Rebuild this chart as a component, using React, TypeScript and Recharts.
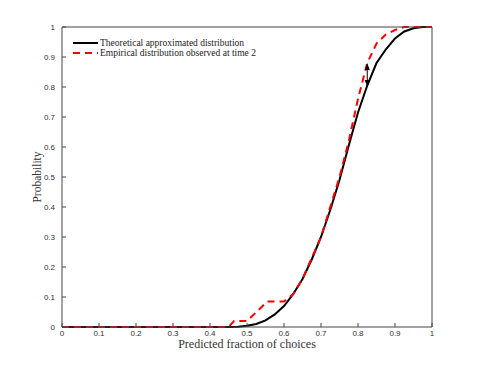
import { LineChart, Line, XAxis, YAxis, ReferenceLine } from "recharts";

// theoretical (black) curve
const theoryX = [0, 0.1, 0.2, 0.3, 0.4, 0.45, 0.475, 0.5, 0.525, 0.55, 0.575, 0.6, 0.625, 0.65, 0.675, 0.7, 0.725, 0.75, 0.775, 0.8, 0.825, 0.85, 0.875, 0.9, 0.925, 0.95, 0.975, 1];
const theoryY = [0, 0, 0, 0, 0, 0, 0.001, 0.004, 0.01, 0.022, 0.042, 0.07, 0.11, 0.16, 0.225, 0.3, 0.39, 0.49, 0.605, 0.715, 0.805, 0.88, 0.925, 0.962, 0.985, 0.996, 1, 1];

// empirical (red dashed) distribution at time 2
const empiricalX = [0, 0.45, 0.465, 0.5, 0.555, 0.6, 0.625, 0.65, 0.7, 0.725, 0.75, 0.775, 0.8, 0.825, 0.85, 0.875, 0.9, 0.925, 1];
const empiricalY = [0, 0, 0.02, 0.02, 0.085, 0.085, 0.11, 0.16, 0.3, 0.4, 0.5, 0.62, 0.76, 0.88, 0.945, 0.975, 0.99, 1, 1];

const xTicks = [0, 0.1, 0.2, 0.3, 0.4, 0.5, 0.6, 0.7, 0.8, 0.9, 1];
const yTicks = [0, 0.1, 0.2, 0.3, 0.4, 0.5, 0.6, 0.7, 0.8, 0.9, 1];
const tickLabels = ["0", "0.1", "0.2", "0.3", "0.4", "0.5", "0.6", "0.7", "0.8", "0.9", "1"];

const arrowX = 0.825;
const arrowTop = 0.88;
const arrowBottom = 0.8;

const theory = theoryX.map((x, i) => ({ x, y: theoryY[i] }));
const empirical = empiricalX.map((x, i) => ({ x, y: empiricalY[i] }));

const serif = "'Liberation Serif', 'Times New Roman', serif";
const sans = "'Liberation Sans', Arial, sans-serif";
const tickStyle = { fontSize: 8, fill: "#333", fontFamily: sans };
const fmt = (v: number) => tickLabels[xTicks.indexOf(v)] ?? String(v);

function Arrow(p: any) {
  const { x1, y1, x2, y2 } = p;
  const top = Math.min(y1, y2);
  const bot = Math.max(y1, y2);
  return (
    <g>
      <line x1={x1} y1={top + 3} x2={x2} y2={bot - 3} stroke="#000" strokeWidth={1} />
      <polygon points={`${x1},${top} ${x1 - 2.5},${top + 7} ${x1 + 2.5},${top + 7}`} fill="#000" />
      <polygon points={`${x1},${bot} ${x1 - 2.5},${bot - 7} ${x1 + 2.5},${bot - 7}`} fill="#000" />
    </g>
  );
}

export default function App() {
  return (
    <div style={{ position: "absolute", left: 0, top: 0, width: 477, height: 368, background: "#fff" }}>
      <LineChart width={477} height={368} margin={{ top: 17, right: 35, left: 0, bottom: 0 }}>
        <XAxis
          dataKey="x"
          type="number"
          domain={[0, 1]}
          ticks={xTicks}
          tickFormatter={fmt}
          height={41}
          tickSize={-4}
          tickMargin={7}
          tick={tickStyle}
          stroke="#444"
          label={{ value: "Predicted fraction of choices", position: "insideBottom", offset: 20, style: { fontFamily: serif, fontSize: 12, fill: "#333" } }}
        />
        <XAxis xAxisId="top" orientation="top" type="number" domain={[0, 1]} ticks={xTicks} tickFormatter={() => ""} height={10} tickSize={-4} stroke="#444" />
        <YAxis
          type="number"
          domain={[0, 1]}
          ticks={yTicks}
          tickFormatter={fmt}
          width={62}
          tickSize={-4}
          tickMargin={11}
          tick={tickStyle}
          stroke="#444"
          label={{ value: "Probability", angle: -90, position: "insideLeft", offset: 37, style: { textAnchor: "middle", fontFamily: serif, fontSize: 11.5, fill: "#333" } }}
        />
        <YAxis yAxisId="right" orientation="right" type="number" domain={[0, 1]} ticks={yTicks} tickFormatter={() => ""} width={10} tickSize={-4} stroke="#444" />
        <Line data={theory} dataKey="y" type="linear" stroke="#000" strokeWidth={2} dot={false} isAnimationActive={false} />
        <Line data={empirical} dataKey="y" type="linear" stroke="#f00" strokeWidth={2} strokeDasharray="7 5" dot={false} isAnimationActive={false} />
        <ReferenceLine segment={[{ x: arrowX, y: arrowTop }, { x: arrowX, y: arrowBottom }]} shape={(p: any) => <Arrow {...p} />} />
      </LineChart>
      <div style={{ position: "absolute", left: 73, top: 38, fontFamily: serif, fontSize: 9.5, color: "#222", lineHeight: "10px" }}>
        <div style={{ display: "flex", alignItems: "center", height: 10 }}>
          <svg width={27} height={10}><line x1={0} y1={5} x2={25} y2={5} stroke="#000" strokeWidth={2} /></svg>
          <span>Theoretical approximated distribution</span>
        </div>
        <div style={{ display: "flex", alignItems: "center", height: 10 }}>
          <svg width={27} height={10}><line x1={0} y1={5} x2={25} y2={5} stroke="#f00" strokeWidth={2} strokeDasharray="7 5" /></svg>
          <span>Empirical distribution observed at time 2</span>
        </div>
      </div>
    </div>
  );
}
